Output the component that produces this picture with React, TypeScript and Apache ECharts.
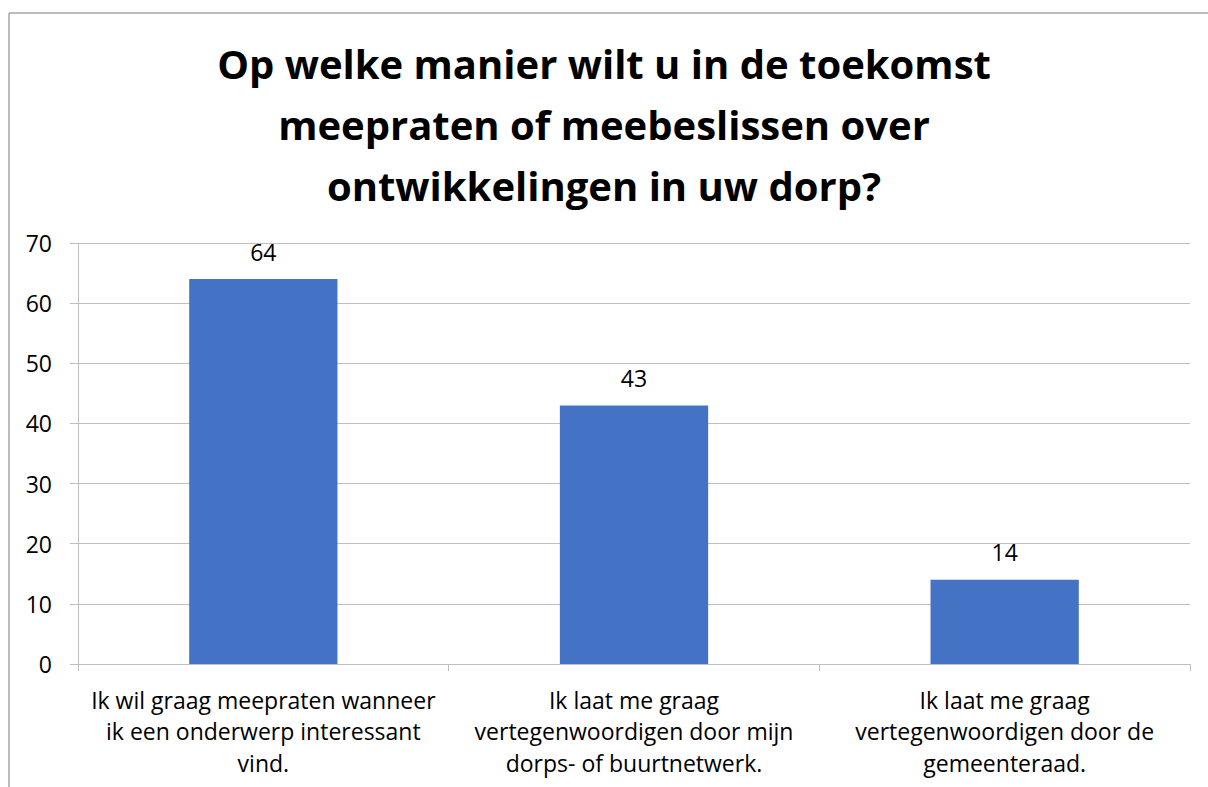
import React, { useEffect, useRef } from "react";
import * as echarts from "echarts";

const titleLines = [
  "Op welke manier wilt u in de toekomst",
  "meepraten of meebeslissen over",
  "ontwikkelingen in uw dorp?",
];
const categories = [
  "Ik wil graag meepraten wanneer\nik een onderwerp interessant\nvind.",
  "Ik laat me graag\nvertegenwoordigen door mijn\ndorps- of buurtnetwerk.",
  "Ik laat me graag\nvertegenwoordigen door de\ngemeenteraad.",
];
const values = [64, 43, 14];
const yMin = 0;
const yMax = 70;
const yInterval = 10;

const FONT = "'Open Sans', 'Noto Sans', sans-serif";

export default function App() {
  const ref = useRef<HTMLDivElement>(null);
  useEffect(() => {
    if (!ref.current) return;
    const chart = echarts.init(ref.current, undefined, { renderer: "svg" });
    chart.setOption({
      animation: false,
      backgroundColor: "#ffffff",
      title: {
        text: titleLines.join("\n"),
        left: "center",
        top: 28,
        textStyle: {
          fontFamily: FONT,
          fontWeight: "bold",
          fontSize: 40,
          lineHeight: 61,
          color: "#000000",
        },
      },
      graphic: [
        {
          type: "line",
          shape: { x1: 9, y1: 13, x2: 1208, y2: 13 },
          style: { stroke: "#a6a6a6", lineWidth: 1.5 },
          silent: true,
        },
        {
          type: "line",
          shape: { x1: 9, y1: 13, x2: 9, y2: 787 },
          style: { stroke: "#a6a6a6", lineWidth: 1.5 },
          silent: true,
        },
      ],
      grid: { left: 78, right: 18, top: 243, bottom: 123, containLabel: false },
      xAxis: {
        type: "category",
        data: categories,
        axisLine: { show: true, lineStyle: { color: "#bfbfbf", width: 1 } },
        axisTick: { show: true, length: 7, lineStyle: { color: "#bfbfbf" } },
        axisLabel: {
          interval: 0,
          margin: 20,
          fontFamily: FONT,
          fontSize: 23,
          lineHeight: 31.5,
          color: "#000000",
          align: "center",
        },
      },
      yAxis: {
        type: "value",
        min: yMin,
        max: yMax,
        interval: yInterval,
        axisLine: { show: true, lineStyle: { color: "#bfbfbf", width: 1 } },
        axisTick: { show: true, length: 8, lineStyle: { color: "#bfbfbf" } },
        splitLine: { show: true, lineStyle: { color: "#bfbfbf", width: 1 } },
        axisLabel: {
          margin: 26,
          fontFamily: FONT,
          fontSize: 23,
          color: "#000000",
        },
      },
      series: [
        {
          type: "bar",
          data: values,
          barWidth: "40%",
          itemStyle: { color: "#4472c4" },
          label: {
            show: true,
            position: "top",
            distance: 16,
            fontFamily: FONT,
            fontSize: 23,
            color: "#000000",
          },
        },
      ],
    });
    return () => chart.dispose();
  }, []);
  return (
    <div
      ref={ref}
      style={{ position: "absolute", left: 0, top: 0, width: 1208, height: 787 }}
    />
  );
}
